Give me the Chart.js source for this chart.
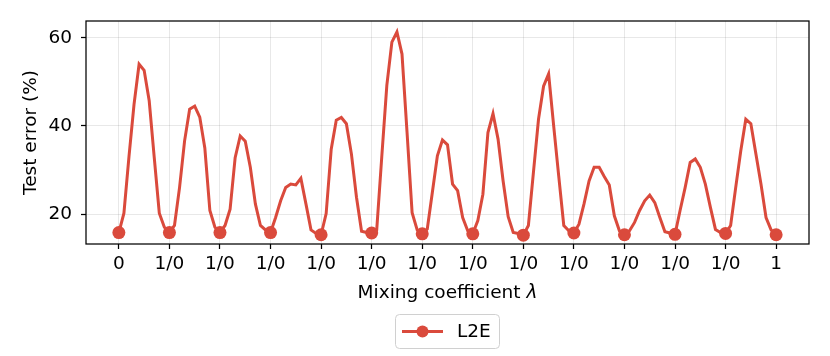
<!DOCTYPE html>
<html><head><meta charset="utf-8">
<script src="https://cdn.jsdelivr.net/npm/chart.js@4"></script>
<style>html,body{margin:0;padding:0;background:#fff}#wrap{width:830px;height:356px}</style>
</head><body><div id="wrap"><canvas id="c" width="830" height="356"></canvas></div>
<script>
// Tick labels on the x axis (one per interpolation endpoint)
const tickLabels = ['0','1/0','1/0','1/0','1/0','1/0','1/0','1/0','1/0','1/0','1/0','1/0','1/0','1'];
// Test error (%) at each endpoint (marked points)
const endpointError = [15.8, 15.8, 15.8, 15.8, 15.3, 15.7, 15.5, 15.5, 15.2, 15.7, 15.3, 15.4, 15.6, 15.3];
// Test error (%) at the 9 interior steps (0.1 .. 0.9) of each segment
const seg1  = [20.2, 33.0, 44.9, 54.0, 52.6, 45.7, 32.8, 20.2, 17.0];
const seg2  = [17.4, 26.0, 36.6, 43.8, 44.5, 42.0, 35.0, 20.8, 17.0];
const seg3  = [17.4, 21.1, 32.8, 37.7, 36.5, 30.6, 22.3, 17.4, 16.4];
const seg4  = [19.2, 23.0, 26.0, 26.8, 26.6, 28.1, 22.3, 16.4, 15.6];
const seg5  = [20.1, 34.7, 41.3, 41.9, 40.5, 33.6, 23.8, 16.1, 15.8];
const seg6  = [16.4, 33.0, 49.2, 59.0, 61.3, 56.3, 38.5, 20.3, 16.4];
const seg7  = [16.6, 24.9, 33.2, 36.8, 35.7, 26.8, 25.3, 19.2, 16.2];
const seg8  = [18.5, 24.5, 38.5, 42.8, 37.0, 27.5, 19.4, 15.8, 15.6];
const seg9  = [17.4, 29.5, 41.5, 49.0, 51.8, 40.0, 28.6, 17.4, 16.2];
const seg10 = [17.7, 22.3, 27.5, 30.6, 30.6, 28.5, 26.6, 19.6, 16.2];
const seg11 = [16.2, 18.1, 20.8, 23.0, 24.3, 22.6, 19.2, 16.0, 15.7];
const seg12 = [20.8, 26.0, 31.7, 32.5, 30.6, 26.8, 21.5, 16.5, 15.8];
const seg13 = [17.4, 26.0, 34.3, 41.5, 40.5, 33.6, 26.8, 19.2, 16.4];
const yTicks = [20, 40, 60];
const seriesName = 'L2E';
const xTitle = 'Mixing coefficient ';
const xTitleSymbol = 'λ';

const segments = [seg1,seg2,seg3,seg4,seg5,seg6,seg7,seg8,seg9,seg10,seg11,seg12,seg13];
const points = [];
segments.forEach((seg, k) => {
  points.push({x: k, y: endpointError[k]});
  seg.forEach((v, i) => points.push({x: k + (i + 1) / 10, y: v}));
});
points.push({x: segments.length, y: endpointError[segments.length]});

const RED = '#da4a3c';
const FONT = "'DejaVu Sans', sans-serif";
const FS = 18.5;

const framePlugin = {
  id: 'frame',
  afterDraw(chart) {
    const {ctx, chartArea: a} = chart;
    ctx.save();
    ctx.strokeStyle = '#000';
    ctx.lineWidth = 1.25;
    ctx.strokeRect(a.left, a.top, a.right - a.left, a.bottom - a.top);
    // x-axis title with italic symbol
    ctx.fillStyle = '#000';
    ctx.textBaseline = 'middle';
    ctx.font = FS + 'px ' + FONT;
    const w1 = ctx.measureText(xTitle).width;
    ctx.font = 'italic ' + FS + 'px ' + FONT;
    const w2 = ctx.measureText(xTitleSymbol).width;
    const cx = (a.left + a.right) / 2;
    let tx = cx - (w1 + w2) / 2;
    ctx.font = FS + 'px ' + FONT;
    ctx.fillText(xTitle, tx, 293);
    ctx.font = 'italic ' + FS + 'px ' + FONT;
    ctx.fillText(xTitleSymbol, tx + w1, 293);
    // legend
    const bx = 395.5, by = 314.5, bw = 104, bh = 34;
    ctx.strokeStyle = '#d0d0d0';
    ctx.lineWidth = 1;
    ctx.beginPath();
    const r = 4;
    ctx.moveTo(bx + r, by);
    ctx.arcTo(bx + bw, by, bx + bw, by + bh, r);
    ctx.arcTo(bx + bw, by + bh, bx, by + bh, r);
    ctx.arcTo(bx, by + bh, bx, by, r);
    ctx.arcTo(bx, by, bx + bw, by, r);
    ctx.closePath();
    ctx.fillStyle = 'rgba(255,255,255,0.8)';
    ctx.fill();
    ctx.stroke();
    const ly = by + bh / 2;
    ctx.strokeStyle = RED; ctx.lineWidth = 3;
    ctx.beginPath(); ctx.moveTo(402, ly); ctx.lineTo(443, ly); ctx.stroke();
    ctx.fillStyle = RED;
    ctx.beginPath(); ctx.arc(422.5, ly, 6, 0, Math.PI * 2); ctx.fill();
    ctx.fillStyle = '#000';
    ctx.font = FS + 'px ' + FONT;
    ctx.textBaseline = 'middle';
    ctx.fillText(seriesName, 457, ly + 1);
    ctx.restore();
  }
};

new Chart(document.getElementById('c'), {
  type: 'line',
  data: {
    datasets: [{
      label: seriesName,
      data: points,
      borderColor: RED,
      backgroundColor: RED,
      borderWidth: 3,
      tension: 0,
      pointRadius: ctx => (Number.isInteger(Math.round(ctx.raw.x * 10) / 10) ? 6.5 : 0),
      pointHoverRadius: 0,
      pointBorderWidth: 0,
      pointBackgroundColor: RED,
      borderJoinStyle: 'miter'
    }]
  },
  options: {
    responsive: false,
    devicePixelRatio: 1,
    animation: false,
    layout: {padding: {left: 0, right: 21, top: 21, bottom: 52}},
    plugins: {legend: {display: false}, tooltip: {enabled: false}},
    scales: {
      x: {
        type: 'linear',
        min: -0.65, max: 13.65,
        afterBuildTicks: s => { s.ticks = tickLabels.map((_, i) => ({value: i})); },
        afterFit: s => { s.height = 60; },
        ticks: {
          callback: v => tickLabels[Math.round(v)],
          font: {family: FONT, size: FS}, color: '#000', padding: 4, maxRotation: 0, autoSkip: false
        },
        grid: {color: 'rgba(0,0,0,0.09)', lineWidth: 1, drawTicks: true, tickLength: 5, tickColor: '#000', tickWidth: 1.25},
        border: {display: false},
        title: {display: false}
      },
      y: {
        type: 'linear',
        min: 13.2, max: 63.8,
        afterBuildTicks: s => { s.ticks = yTicks.map(v => ({value: v})); },
        afterFit: s => { s.width = 86; },
        ticks: {font: {family: FONT, size: FS}, color: '#000', padding: 9},
        grid: {color: 'rgba(0,0,0,0.09)', lineWidth: 1, drawTicks: true, tickLength: 5, tickColor: '#000', tickWidth: 1.25},
        border: {display: false},
        title: {display: true, text: 'Test error (%)', font: {family: FONT, size: FS}, color: '#000', padding: {top: 20, bottom: 0}}
      }
    }
  },
  plugins: [framePlugin]
});
</script>
</body></html>
